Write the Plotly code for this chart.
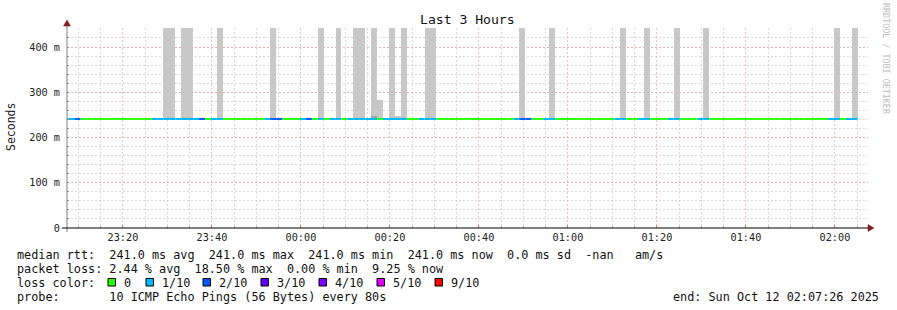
import plotly.graph_objects as go
from datetime import datetime, timedelta

# ---------------- data ----------------
title_text = "Last 3 Hours"
window_start = datetime(2025, 10, 11, 23, 7, 26)
window_end = datetime(2025, 10, 12, 2, 7, 26)
last_sample_end = datetime(2025, 10, 12, 2, 5, 7)
step_seconds = 80

median_rtt_s = 0.241

# packet loss per 80 s sample (pings lost out of 10), oldest first
loss_tenths = [
    0, 1, 2, 0, 0, 0, 0, 0, 0, 0, 0, 0, 0, 0, 0,
    1, 1, 1, 1, 1, 1, 1, 1, 2, 0, 1, 1,
    0, 0, 0, 0, 0, 0, 0, 1, 2, 2, 0, 0, 0, 1, 2,
    0, 1, 0, 1, 1, 0, 1, 1, 1, 1, 1, 0, 1, 1, 1, 1,
    0, 0, 1, 1, 1,
    0, 0, 0, 0, 0, 0, 0, 0, 0, 0, 0, 0, 0,
    1, 2, 2, 0, 0, 1, 1,
    0, 0, 0, 0, 0, 0, 0, 0, 0, 0,
    1, 1, 0, 0, 1, 1, 0, 0, 0, 1, 1, 0, 0, 0, 1, 1,
    0, 0, 0, 0, 0, 0, 0, 0, 0, 0, 0, 0, 0, 0, 0, 0, 0, 0, 0, 0,
    1, 1, 0, 1, 1,
]

# smoke (spread of ping times): sample index and top of smoke in seconds
smoke_index = [17, 18, 20, 21, 26, 35, 43, 46, 49, 50, 52, 53, 55, 56, 57,
               61, 62, 77, 82, 94, 98, 103, 108, 130, 133]
smoke_top_s = [0.5, 0.5, 0.5, 0.5, 0.5, 0.5, 0.5, 0.5, 0.5, 0.5, 0.5, 0.283,
               0.5, 0.247, 0.5, 0.5, 0.5, 0.5, 0.5, 0.5, 0.5, 0.5, 0.5, 0.5, 0.5]
dense_smoke_index = [52]
dense_smoke_low_s = [0.243]
dense_smoke_top_s = [0.248]

y_tick_vals = [0, 0.1, 0.2, 0.3, 0.4]
y_tick_text = ["0", "100 m", "200 m", "300 m", "400 m"]

rtt_stats_ms = [241.0, 241.0, 241.0, 241.0, 0.0]   # avg, max, min, now, sd
loss_stats_pct = [2.44, 18.50, 0.00, 9.25]          # avg, max, min, now

loss_levels = [0, 1, 2, 3, 4, 5, 9]
loss_level_labels = ["0", "1/10", "2/10", "3/10", "4/10", "5/10", "9/10"]
loss_level_colors = ["#26ff00", "#00b8ff", "#0059ff", "#5e00ff", "#7e00ff", "#dd00ff", "#ff0000"]

probe_text = "10 ICMP Echo Pings (56 Bytes) every 80s"
end_text = "end: Sun Oct 12 02:07:26 2025"
watermark = "RRDTOOL / TOBI OETIKER"

# ---------------- layout helpers ----------------
W, H = 897, 310
L, R, T, B = 67, 868, 28, 228
FONT = "DejaVu Sans Mono"


def px(x):
    return (x - L) / (R - L)


def py(y):
    return (B - y) / (B - T)


def color_for(loss):
    col = loss_level_colors[0]
    for lvl, c in zip(loss_levels, loss_level_colors):
        if loss >= lvl:
            col = c
    return col


n = len(loss_tenths)
step = timedelta(seconds=step_seconds)
sample_end = [last_sample_end - (n - 1 - i) * step for i in range(n)]
sample_start = [e - step for e in sample_end]
sample_mid = [e - step / 2 for e in sample_end]

fig = go.Figure()

# smoke bars
fig.add_trace(go.Bar(
    x=[sample_mid[i] for i in smoke_index],
    y=[t - median_rtt_s for t in smoke_top_s],
    base=[median_rtt_s] * len(smoke_index),
    width=[step_seconds * 1000] * len(smoke_index),
    marker=dict(color="#c8c8c8", line=dict(width=0)),
    hoverinfo="skip", showlegend=False,
))
fig.add_trace(go.Bar(
    x=[sample_mid[i] for i in dense_smoke_index],
    y=[t - lo for t, lo in zip(dense_smoke_top_s, dense_smoke_low_s)],
    base=dense_smoke_low_s,
    width=[step_seconds * 1000] * len(dense_smoke_index),
    marker=dict(color="#a4a4a4", line=dict(width=0)),
    hoverinfo="skip", showlegend=False,
))

# median line coloured by loss
groups = {}
for i in range(n):
    c = color_for(loss_tenths[i])
    xs, ys = groups.setdefault(c, ([], []))
    xs += [sample_start[i], sample_end[i], None]
    ys += [median_rtt_s, median_rtt_s, None]
for c, (xs, ys) in groups.items():
    fig.add_trace(go.Scatter(x=xs, y=ys, mode="lines",
                             line=dict(color=c, width=2),
                             hoverinfo="skip", showlegend=False))

GRID_MAJOR = "rgba(240,140,140,0.55)"
GRID_MINOR = "rgba(170,170,170,0.45)"

fig.update_layout(
    width=W, height=H,
    margin=dict(l=L, r=W - R, t=T, b=H - B, pad=0, autoexpand=False),
    paper_bgcolor="white", plot_bgcolor="white",
    barmode="overlay", bargap=0,
    showlegend=False,
    font=dict(family=FONT, size=10.2, color="#222"),
    xaxis=dict(
        type="date", range=[window_start, window_end], automargin=False,
        tick0=datetime(2025, 10, 11, 23, 20), dtick=20 * 60 * 1000,
        tickformat="%H:%M", showgrid=True, gridcolor=GRID_MAJOR,
        griddash="2px,2px", gridwidth=1,
        ticks="inside", ticklen=3, tickcolor="#e07070",
        minor=dict(dtick=5 * 60 * 1000, showgrid=True, gridcolor=GRID_MINOR,
                   griddash="2px,2px", ticks="inside", ticklen=2, tickcolor="#aaaaaa"),
        showline=False, zeroline=False, fixedrange=True,
        ticklabelstandoff=2,
        tickfont=dict(family=FONT, size=10.2, color="#222"),
    ),
    yaxis=dict(
        range=[0, 0.442], tickvals=y_tick_vals, ticktext=y_tick_text, automargin=False,
        showgrid=True, gridcolor=GRID_MAJOR, griddash="2px,2px", gridwidth=1,
        ticks="inside", ticklen=2, tickcolor="#888888",
        minor=dict(dtick=0.02, showgrid=True, gridcolor=GRID_MINOR,
                   griddash="2px,2px", ticks="inside", ticklen=2, tickcolor="#888888"),
        showline=False, zeroline=False, fixedrange=True,
        ticklabelstandoff=6,
        tickfont=dict(family=FONT, size=10.2, color="#222"),
        title=dict(text="", font=dict(family=FONT, size=11.5, color="#222")),
    ),
)

shapes = []
# axis lines
shapes.append(dict(type="line", xref="paper", yref="paper",
                   x0=px(L), x1=px(L), y0=py(232), y1=py(25),
                   line=dict(color="#808080", width=1)))
shapes.append(dict(type="line", xref="paper", yref="paper",
                   x0=px(62), x1=px(R), y0=py(B), y1=py(B),
                   line=dict(color="#000000", width=1)))
# arrows
shapes.append(dict(type="path", xref="paper", yref="paper",
                   path=f"M {px(L-3.5)} {py(26)} L {px(L+3.5)} {py(26)} L {px(L)} {py(20)} Z",
                   fillcolor="#7f1f1f", line=dict(color="#7f1f1f", width=0.5)))
shapes.append(dict(type="path", xref="paper", yref="paper",
                   path=f"M {px(R)} {py(B-3.5)} L {px(R)} {py(B+3.5)} L {px(R+6)} {py(B)} Z",
                   fillcolor="#7f1f1f", line=dict(color="#7f1f1f", width=0.5)))

annotations = []


def text_at(x, y, s, anchor="left", size=11.8, color="#111", angle=0):
    annotations.append(dict(
        x=px(x), y=py(y), xref="paper", yref="paper", showarrow=False,
        text=s.replace(" ", "\u00a0"), xanchor=anchor, yanchor="middle",
        textangle=angle, font=dict(family=FONT, size=size, color=color),
        borderpad=0,
    ))


text_at((L + R) / 2, 19, title_text, anchor="center", size=13.1, color="#111")
text_at(886, 59, watermark, anchor="center", size=8.4, color="#bdbdbd", angle=90)
text_at(11, 127, "Seconds", anchor="center", size=11.5, color="#222", angle=-90)

a, mx, mn, now, sd = rtt_stats_ms
line1 = (f"median rtt:  {a:.1f} ms avg  {mx:.1f} ms max  {mn:.1f} ms min  "
         f"{now:.1f} ms now  {sd:.1f} ms sd  -nan   am/s")
la, lmx, lmn, lnow = loss_stats_pct
line2 = f"packet loss: {la:.2f} % avg  {lmx:.2f} % max  {lmn:.2f} % min  {lnow:.2f} % now"
text_at(16, 255, line1)
text_at(16, 268.5, line2)
text_at(16, 282.5, "loss color:")
text_at(16, 296.5, "probe:       " + probe_text)
text_at(880, 296.5, end_text, anchor="right")

box_left = [108, 146, 203, 261, 319, 377, 435]
for bx, lab, col in zip(box_left, loss_level_labels, loss_level_colors):
    shapes.append(dict(type="rect", xref="paper", yref="paper",
                       x0=px(bx), x1=px(bx + 7.5), y0=py(286), y1=py(278.5),
                       fillcolor=col, line=dict(color="#000000", width=1)))
    text_at(bx + 15, 282.5, lab)

fig.update_layout(shapes=shapes, annotations=annotations)
fig.write_html("out.html")
